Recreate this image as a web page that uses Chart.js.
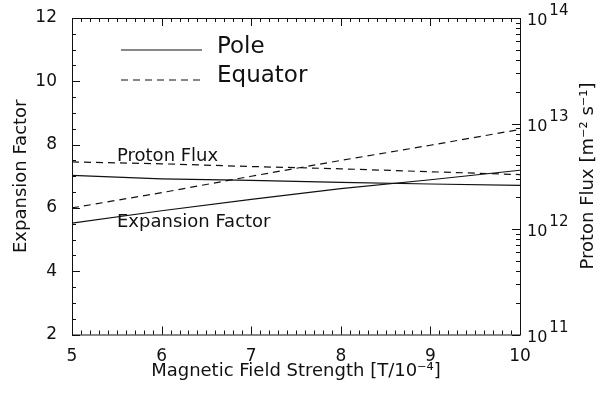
<!DOCTYPE html>
<html lang="en">
  <head>
    <meta charset="UTF-8" />
    <title>Expansion Factor and Proton Flux</title>
    <script src="https://cdn.jsdelivr.net/npm/chart.js"></script>
    <style>
      html, body { margin: 0; padding: 0; background: #fff; }
    </style>
  </head>
  <body>
    <canvas id="myChart" width="603" height="394"></canvas>

    <script>
      // data
      const fieldStrength = [5, 6, 7, 8, 9, 10];
      const poleExpansion = [5.52, 5.91, 6.27, 6.61, 6.89, 7.19];
      const equatorExpansion = [6.0, 6.48, 7.0, 7.5, 7.98, 8.48];
      const poleFlux = [3.23e12, 2.99e12, 2.89e12, 2.77e12, 2.67e12, 2.59e12];
      const equatorFlux = [4.32e12, 4.15e12, 3.91e12, 3.72e12, 3.49e12, 3.28e12];
      const fluxDecades = [11, 12, 13, 14];

      const FONT = "'DejaVu Sans', sans-serif";
      const INK = "#111";

      const toPoints = (ys) => fieldStrength.map((x, i) => ({ x: x, y: ys[i] }));

      const line = (label, ys, axis, dashed) => ({
        label: label,
        data: toPoints(ys),
        yAxisID: axis,
        borderColor: INK,
        borderWidth: 1.2,
        borderDash: dashed ? [7, 5] : [],
        pointRadius: 0,
        fill: false,
        tension: 0,
      });

      // ticks, frame, legend and labels in the old IDL style
      const idlPlugin = {
        id: "idlStyle",
        afterDraw(chart) {
          const { ctx, chartArea: a, scales } = chart;
          const xs = scales.x, yl = scales.y, yr = scales.y2;
          ctx.save();
          ctx.strokeStyle = INK;
          ctx.lineWidth = 1;
          ctx.strokeRect(a.left + 0.5, a.top + 0.5, a.right - a.left, a.bottom - a.top);

          ctx.beginPath();
          // x ticks, bottom and top
          for (let i = 0; i <= 50; i++) {
            const v = 5 + i / 10;
            const px = Math.round(xs.getPixelForValue(v)) + 0.5;
            const len = i % 10 === 0 ? 8 : 4;
            ctx.moveTo(px, a.bottom); ctx.lineTo(px, a.bottom - len);
            ctx.moveTo(px, a.top); ctx.lineTo(px, a.top + len);
          }
          // left ticks
          for (let i = 0; i <= 20; i++) {
            const v = 2 + i * 0.5;
            const py = Math.round(yl.getPixelForValue(v)) + 0.5;
            const len = i % 4 === 0 ? 8 : 4;
            ctx.moveTo(a.left, py); ctx.lineTo(a.left + len, py);
          }
          // right log ticks
          fluxDecades.forEach((d, k) => {
            for (let m = 1; m <= 9; m++) {
              if (k === fluxDecades.length - 1 && m > 1) break;
              const py = Math.round(yr.getPixelForValue(m * Math.pow(10, d))) + 0.5;
              const len = m === 1 ? 8 : 4;
              ctx.moveTo(a.right, py); ctx.lineTo(a.right - len, py);
            }
          });
          ctx.stroke();

          // right labels 10^n
          ctx.fillStyle = INK;
          ctx.textBaseline = "alphabetic";
          ctx.textAlign = "left";
          fluxDecades.forEach((d) => {
            const py = yr.getPixelForValue(Math.pow(10, d));
            ctx.font = `16px ${FONT}`;
            ctx.fillText("10", a.right + 7, py + 7);
            const w = ctx.measureText("10").width;
            ctx.font = `15px ${FONT}`;
            ctx.fillText(String(d), a.right + 9 + w, py - 3);
          });

          // right axis title, reading upwards like the left one
          ctx.save();
          ctx.translate(588, 176);
          ctx.rotate(-Math.PI / 2);
          ctx.textAlign = "center";
          ctx.textBaseline = "middle";
          ctx.font = `18px ${FONT}`;
          ctx.fillText("Proton Flux [m⁻² s⁻¹]", 0, 0);
          ctx.restore();

          // legend
          ctx.beginPath();
          ctx.setLineDash([]);
          ctx.lineWidth = 1.2;
          ctx.moveTo(121, 50); ctx.lineTo(202, 50);
          ctx.stroke();
          ctx.beginPath();
          ctx.setLineDash([7, 5]);
          ctx.moveTo(121, 80); ctx.lineTo(202, 80);
          ctx.stroke();
          ctx.setLineDash([]);
          ctx.font = `23px ${FONT}`;
          ctx.textBaseline = "middle";
          ctx.fillText("Pole", 217, 47);
          ctx.fillText("Equator", 217, 76);

          // curve labels
          ctx.font = `18px ${FONT}`;
          ctx.textBaseline = "alphabetic";
          ctx.fillText("Proton Flux", 117, 161);
          ctx.fillText("Expansion Factor", 117, 227);
          ctx.restore();
        },
      };

      Chart.register(idlPlugin);

      new Chart(document.getElementById("myChart"), {
        type: "line",
        data: {
          datasets: [
            line("Pole expansion", poleExpansion, "y", false),
            line("Equator expansion", equatorExpansion, "y", true),
            line("Pole flux", poleFlux, "y2", false),
            line("Equator flux", equatorFlux, "y2", true),
          ],
        },
        options: {
          responsive: false,
          animation: false,
          layout: { padding: { top: 18, left: 0, right: 0, bottom: 0 } },
          plugins: {
            legend: { display: false },
            tooltip: { enabled: false },
          },
          scales: {
            x: {
              type: "linear",
              min: 5,
              max: 10,
              grid: { display: false },
              border: { display: false },
              ticks: { stepSize: 1, color: INK, padding: 4, font: { family: FONT, size: 17 } },
              title: {
                display: true,
                text: "Magnetic Field Strength [T/10⁻⁴]",
                color: INK,
                padding: { top: 0, bottom: 12 },
                font: { family: FONT, size: 18 },
              },
              afterFit(s) { s.height = 59.5; },
            },
            y: {
              position: "left",
              min: 2,
              max: 12,
              grid: { display: false },
              border: { display: false },
              ticks: { stepSize: 2, color: INK, padding: 7, font: { family: FONT, size: 17 } },
              title: {
                display: true,
                text: "Expansion Factor",
                color: INK,
                padding: { top: 11, bottom: 0 },
                font: { family: FONT, size: 18 },
              },
              afterFit(s) { s.width = 72; },
            },
            y2: {
              type: "logarithmic",
              position: "right",
              min: 1e11,
              max: 1e14,
              grid: { display: false },
              border: { display: false },
              ticks: { display: false },
              title: { display: false },
              afterFit(s) { s.width = 83; },
            },
          },
        },
      });
    </script>
  </body>
</html>
